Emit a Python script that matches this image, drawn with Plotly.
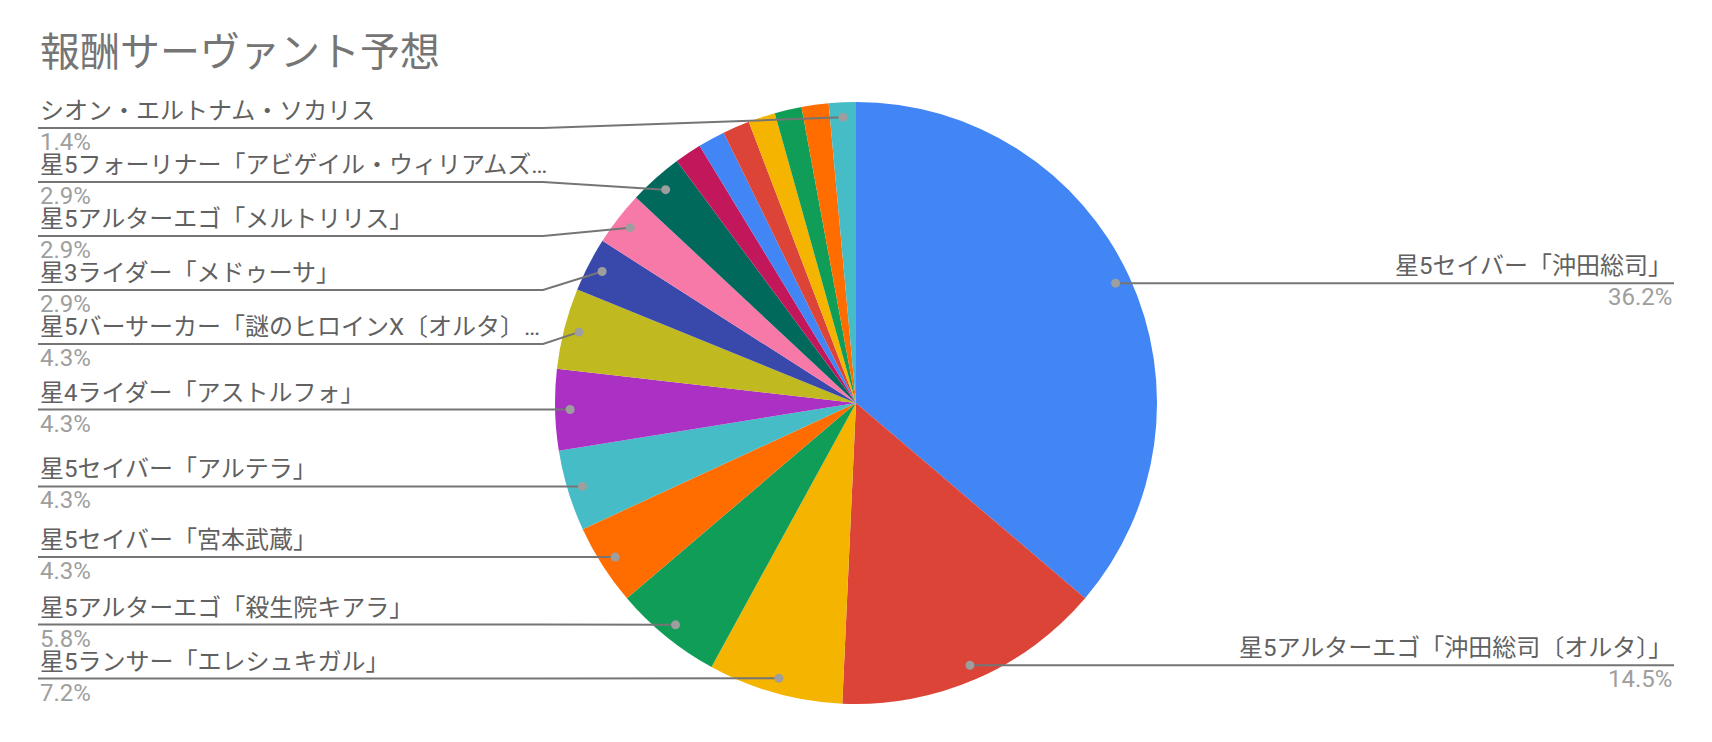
import math
import plotly.graph_objects as go

# ---- data ----
title = "報酬サーヴァント予想"
names = [
    "星5セイバー「沖田総司」",
    "星5アルターエゴ「沖田総司〔オルタ〕」",
    "星5ランサー「エレシュキガル」",
    "星5アルターエゴ「殺生院キアラ」",
    "星5セイバー「宮本武蔵」",
    "星5セイバー「アルテラ」",
    "星4ライダー「アストルフォ」",
    "星5バーサーカー「謎のヒロインX〔オルタ〕」",
    "星3ライダー「メドゥーサ」",
    "星5アルターエゴ「メルトリリス」",
    "星5フォーリナー「アビゲイル・ウィリアムズ」",
    "星5キャスター「スカサハ＝スカディ」",
    "星5ルーラー「ジャンヌ・ダルク」",
    "星5アヴェンジャー「ジャンヌ・ダルク〔オルタ〕」",
    "星5アーチャー「ギルガメッシュ」",
    "星4アサシン「カーミラ」",
    "星5キャスター「マーリン」",
    "シオン・エルトナム・ソカリス",
]
votes = [25, 10, 5, 4, 3, 3, 3, 3, 2, 2, 2, 1, 1, 1, 1, 1, 1, 1]
show_label = [True] * 11 + [False] * 6 + [True]
colors = [
    "#4285F4", "#DB4437", "#F4B400", "#0F9D58", "#FF6D00", "#46BDC6",
    "#AB30C4", "#C0B920", "#3949AB", "#F779A8", "#00695C", "#C2185B",
    "#4285F4", "#DB4437", "#F4B400", "#0F9D58", "#FF6D00", "#46BDC6",
]

# ---- page geometry (pixels) ----
W, H = 1712, 742
CX, CY, R = 856, 403, 301
DOT_R = 0.95 * R
LEFT_X, LEFT_KINK = 38, 543
RIGHT_X, RIGHT_KINK = 1674, 2 * CX - LEFT_KINK
LABEL_GAP, LABEL_TOP = 54, 128
FONT = "Roboto, 'Noto Sans CJK JP', sans-serif"
LABEL_SIZE, TITLE_SIZE = 24, 40
NAME_COLOR, PCT_COLOR, LINE_COLOR, DOT_COLOR = "#616161", "#9E9E9E", "#757575", "#9E9E9E"
MAX_CHARS = 21


def px(x):
    return x / W


def py(y):
    return 1 - y / H


def short(s):
    return s if len(s) <= MAX_CHARS else s[:MAX_CHARS] + "…"


def spread(targets, gap, lo):
    """Keep labels at least `gap` apart while moving them as little as possible."""
    t = [v - i * gap for i, v in enumerate(targets)]
    blocks = []
    for v in t:
        blocks.append([v, 1])
        while len(blocks) > 1 and blocks[-2][0] / blocks[-2][1] > blocks[-1][0] / blocks[-1][1]:
            s, c = blocks.pop()
            blocks[-1][0] += s
            blocks[-1][1] += c
    out = []
    for s, c in blocks:
        out += [max(s / c, lo)] * c
    return [v + i * gap for i, v in enumerate(out)]


total = sum(votes)
fig = go.Figure()
fig.add_trace(go.Pie(
    labels=names,
    values=votes,
    sort=False,
    direction="clockwise",
    rotation=0,
    textinfo="none",
    marker=dict(colors=colors, line=dict(width=0)),
    domain=dict(x=[px(CX - R), px(CX + R)], y=[py(CY + R), py(CY - R)]),
    showlegend=False,
    hovertemplate="%{label}<br>%{value} (%{percent})<extra></extra>",
))

# anchor points on each slice
items = []
acc = 0
for i, v in enumerate(votes):
    mid = (acc + v / 2) / total * 2 * math.pi
    acc += v
    if not show_label[i]:
        continue
    dx, dy = DOT_R * math.sin(mid), -DOT_R * math.cos(mid)
    items.append(dict(i=i, x=CX + dx, y=CY + dy, right=dx > 0))

shapes, annotations = [], []
for side in (False, True):
    group = sorted([it for it in items if it["right"] == side], key=lambda d: d["y"])
    ys = spread([it["y"] for it in group], LABEL_GAP, LABEL_TOP)
    for it, ly in zip(group, ys):
        i = it["i"]
        edge, kink = (RIGHT_X, RIGHT_KINK) if side else (LEFT_X, LEFT_KINK)
        path = f"M {px(edge)},{py(ly)} L {px(kink)},{py(ly)} L {px(it['x'])},{py(it['y'])}"
        shapes.append(dict(type="path", path=path, xref="paper", yref="paper",
                           line=dict(color=LINE_COLOR, width=2), layer="above"))
        rx, ry = 4.5 / W, 4.5 / H
        shapes.append(dict(type="circle", xref="paper", yref="paper",
                           x0=px(it["x"]) - rx, x1=px(it["x"]) + rx,
                           y0=py(it["y"]) - ry, y1=py(it["y"]) + ry,
                           fillcolor=DOT_COLOR, line=dict(width=0), layer="above"))
        anchor = "right" if side else "left"
        annotations.append(dict(
            x=px(edge), y=py(ly - 17), xref="paper", yref="paper",
            text=short(names[i]), showarrow=False, xanchor=anchor, yanchor="middle",
            font=dict(family=FONT, size=LABEL_SIZE, color=NAME_COLOR)))
        annotations.append(dict(
            x=px(edge), y=py(ly + 14), xref="paper", yref="paper",
            text=f"{votes[i] / total * 100:.1f}%", showarrow=False, xanchor=anchor,
            yanchor="middle", font=dict(family=FONT, size=LABEL_SIZE, color=PCT_COLOR)))

annotations.append(dict(
    x=px(38), y=py(52), xref="paper", yref="paper", text=title, showarrow=False,
    xanchor="left", yanchor="middle",
    font=dict(family=FONT, size=TITLE_SIZE, color="#757575")))

fig.update_layout(
    width=W, height=H,
    margin=dict(l=0, r=0, t=0, b=0),
    paper_bgcolor="white", plot_bgcolor="white",
    shapes=shapes, annotations=annotations,
)
fig.write_html("out.html")
